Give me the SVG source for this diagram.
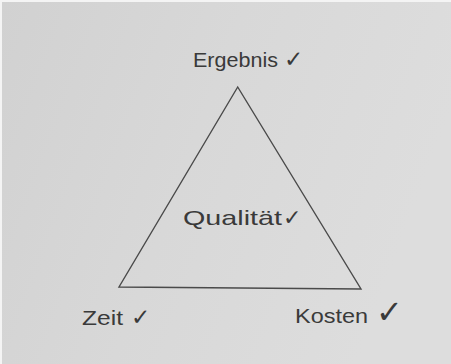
<svg xmlns="http://www.w3.org/2000/svg" width="451" height="364" viewBox="0 0 451 364">
  <defs>
    <linearGradient id="paper" x1="0" y1="0" x2="1" y2="0.3">
      <stop offset="0" stop-color="#d1d1d1"/>
      <stop offset="0.5" stop-color="#d8d8d8"/>
      <stop offset="1" stop-color="#dddddd"/>
    </linearGradient>
  </defs>
  <style>
    .lbl { font-family: "Liberation Sans", "DejaVu Sans", sans-serif; font-size: 21px; fill: #3a3a3a; }
    .chk { font-family: "DejaVu Sans", sans-serif; fill: #3a3a3a; }
    .edge { fill: none; stroke: #4a4a4a; stroke-width: 1.4; stroke-linejoin: miter; }
  </style>
  <rect x="0" y="0" width="451" height="364" fill="#f4f4f4"/>
  <rect x="2" y="2" width="449" height="362" fill="url(#paper)"/>

  <g id="connectors">
    <polygon class="edge" points="237.7,87 119,287 361,289"/>
  </g>

  <g id="node-ergebnis">
    <text class="lbl" x="193" y="67" textLength="85" lengthAdjust="spacingAndGlyphs">Ergebnis</text>
    <text class="chk" x="284" y="67" font-size="23">✓</text>
  </g>
  <g id="node-qualitaet">
    <text class="lbl" x="183" y="225" textLength="99" lengthAdjust="spacingAndGlyphs">Qualität</text>
    <text class="chk" x="283" y="225" font-size="22">✓</text>
  </g>
  <g id="node-zeit">
    <text class="lbl" x="82" y="325" textLength="41" lengthAdjust="spacingAndGlyphs">Zeit</text>
    <text class="chk" x="131" y="325" font-size="23">✓</text>
  </g>
  <g id="node-kosten">
    <text class="lbl" x="295" y="323" textLength="73" lengthAdjust="spacingAndGlyphs">Kosten</text>
    <text class="chk" x="376" y="323" font-size="32">✓</text>
  </g>
</svg>
